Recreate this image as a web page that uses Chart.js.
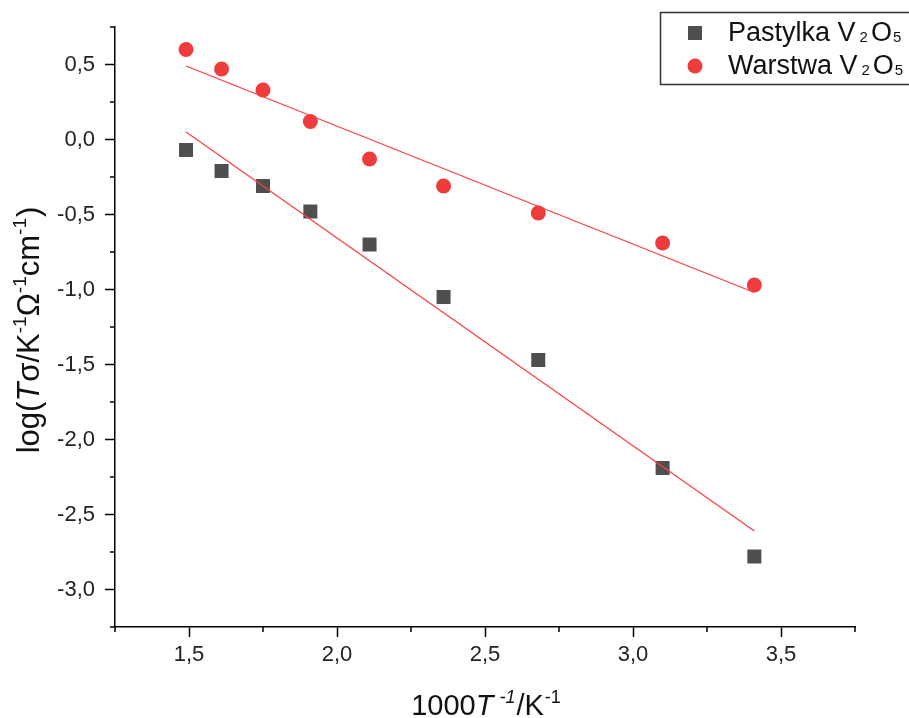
<!DOCTYPE html>
<html>
<head>
<meta charset="utf-8">
<script src="https://cdn.jsdelivr.net/npm/chart.js@4.4.0/dist/chart.umd.min.js"></script>
<style>
html,body{margin:0;padding:0;background:#fff;}
#wrap{width:909px;height:718px;position:relative;}
</style>
</head>
<body>
<div id="wrap"><canvas id="c" width="909" height="718"></canvas></div>
<script>
// ---- data ----
const xValues = [1.49, 1.61, 1.75, 1.91, 2.11, 2.36, 2.68, 3.10, 3.41];
const pastylka = [-0.07, -0.21, -0.31, -0.48, -0.70, -1.05, -1.47, -2.19, -2.78];
const warstwa  = [0.60, 0.47, 0.33, 0.12, -0.13, -0.31, -0.49, -0.69, -0.97];
const fitX = [1.49, 3.41];
const fitPastylka = [0.05, -2.61];
const fitWarstwa = [0.49, -1.02];
const xTickLabels = ['1,5', '2,0', '2,5', '3,0', '3,5'];
const yTickLabels = ['0,5', '0,0', '-0,5', '-1,0', '-1,5', '-2,0', '-2,5', '-3,0'];

const toPts = (xs, ys) => xs.map((x, i) => ({x: x, y: ys[i]}));
const FONT = '"Liberation Sans", Arial, sans-serif';

function fmt(v) {
  const s = v.toFixed(1).replace('.', ',');
  return s === '-0,0' ? '0,0' : s;
}
function isMajor(v) { return Math.abs(v * 2 - Math.round(v * 2)) < 1e-6; }

// rich text helper: parts = [{t, size, style, dy, gap}]
function richWidth(ctx, parts) {
  let w = 0;
  parts.forEach(p => { ctx.font = (p.style || '') + ' ' + p.size + 'px ' + FONT; w += ctx.measureText(p.t).width + (p.gap || 0); });
  return w;
}
function drawRich(ctx, parts, x, y) {
  let cx = x;
  parts.forEach(p => {
    ctx.font = (p.style || '') + ' ' + p.size + 'px ' + FONT;
    ctx.fillText(p.t, cx, y + (p.dy || 0));
    cx += ctx.measureText(p.t).width + (p.gap || 0);
  });
}

const decor = {
  id: 'decor',
  afterDraw(chart) {
    const ctx = chart.ctx;
    const xs = chart.scales.x, ys = chart.scales.y;
    const area = chart.chartArea;
    ctx.save();
    // minor ticks
    ctx.strokeStyle = '#000';
    ctx.lineWidth = 1.5;
    ctx.beginPath();
    xs.ticks.forEach(t => {
      if (!isMajor(t.value)) {
        const px = xs.getPixelForValue(t.value);
        ctx.moveTo(px, area.bottom); ctx.lineTo(px, area.bottom + 5);
      }
    });
    ys.ticks.forEach(t => {
      if (!isMajor(t.value)) {
        const py = ys.getPixelForValue(t.value);
        ctx.moveTo(area.left, py); ctx.lineTo(area.left - 5, py);
      }
    });
    ctx.stroke();

    ctx.fillStyle = '#111';
    ctx.textBaseline = 'alphabetic';
    // x title
    const xt = [
      {t: '1000', size: 29},
      {t: 'T', size: 29, style: 'italic', gap: 6},
      {t: '-1', size: 18, style: 'italic', dy: -12, gap: 1},
      {t: '/K', size: 29, gap: 1},
      {t: '-1', size: 18, dy: -12}
    ];
    const xw = richWidth(ctx, xt);
    drawRich(ctx, xt, 486 - xw / 2, 715);

    // y title
    const yt = [
      {t: 'log(', size: 31},
      {t: 'T', size: 31, style: 'italic', gap: 1},
      {t: 'σ/K', size: 31},
      {t: '-1', size: 19, dy: -13},
      {t: 'Ω', size: 31},
      {t: '-1', size: 19, dy: -13},
      {t: 'cm', size: 31},
      {t: '-1', size: 19, dy: -13, gap: 1},
      {t: ')', size: 31}
    ];
    const yw = richWidth(ctx, yt);
    ctx.save();
    ctx.translate(39, 330);
    ctx.rotate(-Math.PI / 2);
    drawRich(ctx, yt, -yw / 2, 0);
    ctx.restore();

    // legend
    ctx.strokeStyle = '#333';
    ctx.lineWidth = 1.5;
    ctx.strokeRect(660.5, 12.5, 280, 72);
    const rows = [
      {name: 'Pastylka', y: 33, ds: chart.data.datasets[0]},
      {name: 'Warstwa', y: 66, ds: chart.data.datasets[1]}
    ];
    rows.forEach((r, i) => {
      ctx.fillStyle = r.ds.backgroundColor;
      if (i === 0) {
        ctx.fillRect(695 - 7, r.y - 7, 14, 14);
      } else {
        ctx.beginPath(); ctx.arc(695, r.y, 7.5, 0, Math.PI * 2); ctx.fill();
      }
      ctx.fillStyle = '#111';
      ctx.textBaseline = 'middle';
      drawRich(ctx, [
        {t: r.name + ' V', size: 27, gap: 4},
        {t: '2', size: 15, dy: 4, gap: 3},
        {t: 'O', size: 27, gap: 1},
        {t: '5', size: 15, dy: 4}
      ], 728, r.y + 1);
    });
    ctx.restore();
  }
};

new Chart(document.getElementById('c'), {
  type: 'scatter',
  data: {
    datasets: [
      {label: 'Pastylka V2O5', data: toPts(xValues, pastylka), pointStyle: 'rect', pointRadius: 9.9,
       backgroundColor: '#4f4f4f', borderWidth: 0, order: 1},
      {label: 'Warstwa V2O5', data: toPts(xValues, warstwa), pointStyle: 'circle', pointRadius: 7.5,
       backgroundColor: '#ee3b3b', borderWidth: 0, order: 1},
      {label: 'fit1', data: toPts(fitX, fitPastylka), showLine: true, pointRadius: 0,
       borderColor: '#ff4040', borderWidth: 1.3, order: 0},
      {label: 'fit2', data: toPts(fitX, fitWarstwa), showLine: true, pointRadius: 0,
       borderColor: '#ff4040', borderWidth: 1.3, order: 0}
    ]
  },
  options: {
    responsive: false,
    animation: false,
    events: [],
    layout: {padding: {left: 0, top: 27, right: 54, bottom: 0}},
    plugins: {legend: {display: false}, tooltip: {enabled: false}},
    scales: {
      x: {
        type: 'linear', min: 1.25, max: 3.75,
        afterFit(s) { s.height = 91; },
        afterBuildTicks(s) { const t = []; for (let v = 1.25; v <= 3.7501; v += 0.25) t.push({value: +v.toFixed(2)}); s.ticks = t; },
        ticks: {
          autoSkip: false, maxRotation: 0, padding: 5, color: '#222',
          font: {size: 22, family: FONT},
          callback: v => isMajor(v) && xTickLabels.includes(fmt(v)) ? fmt(v) : ''
        },
        grid: {display: true, drawOnChartArea: false, drawTicks: true, tickLength: 10, tickWidth: 1.5,
               tickColor: c => (c.tick && isMajor(c.tick.value)) ? '#000' : 'rgba(0,0,0,0)'},
        border: {display: true, color: '#000', width: 1.5}
      },
      y: {
        type: 'linear', min: -3.25, max: 0.75,
        afterFit(s) { s.width = 115; },
        afterBuildTicks(s) { const t = []; for (let v = -3.25; v <= 0.7501; v += 0.25) t.push({value: +v.toFixed(2)}); s.ticks = t; },
        ticks: {
          autoSkip: false, padding: 10, color: '#222',
          font: {size: 22, family: FONT},
          callback: v => isMajor(v) && yTickLabels.includes(fmt(v)) ? fmt(v) : ''
        },
        grid: {display: true, drawOnChartArea: false, drawTicks: true, tickLength: 10, tickWidth: 1.5,
               tickColor: c => (c.tick && isMajor(c.tick.value)) ? '#000' : 'rgba(0,0,0,0)'},
        border: {display: true, color: '#000', width: 1.5}
      }
    }
  },
  plugins: [decor]
});
</script>
</body>
</html>
